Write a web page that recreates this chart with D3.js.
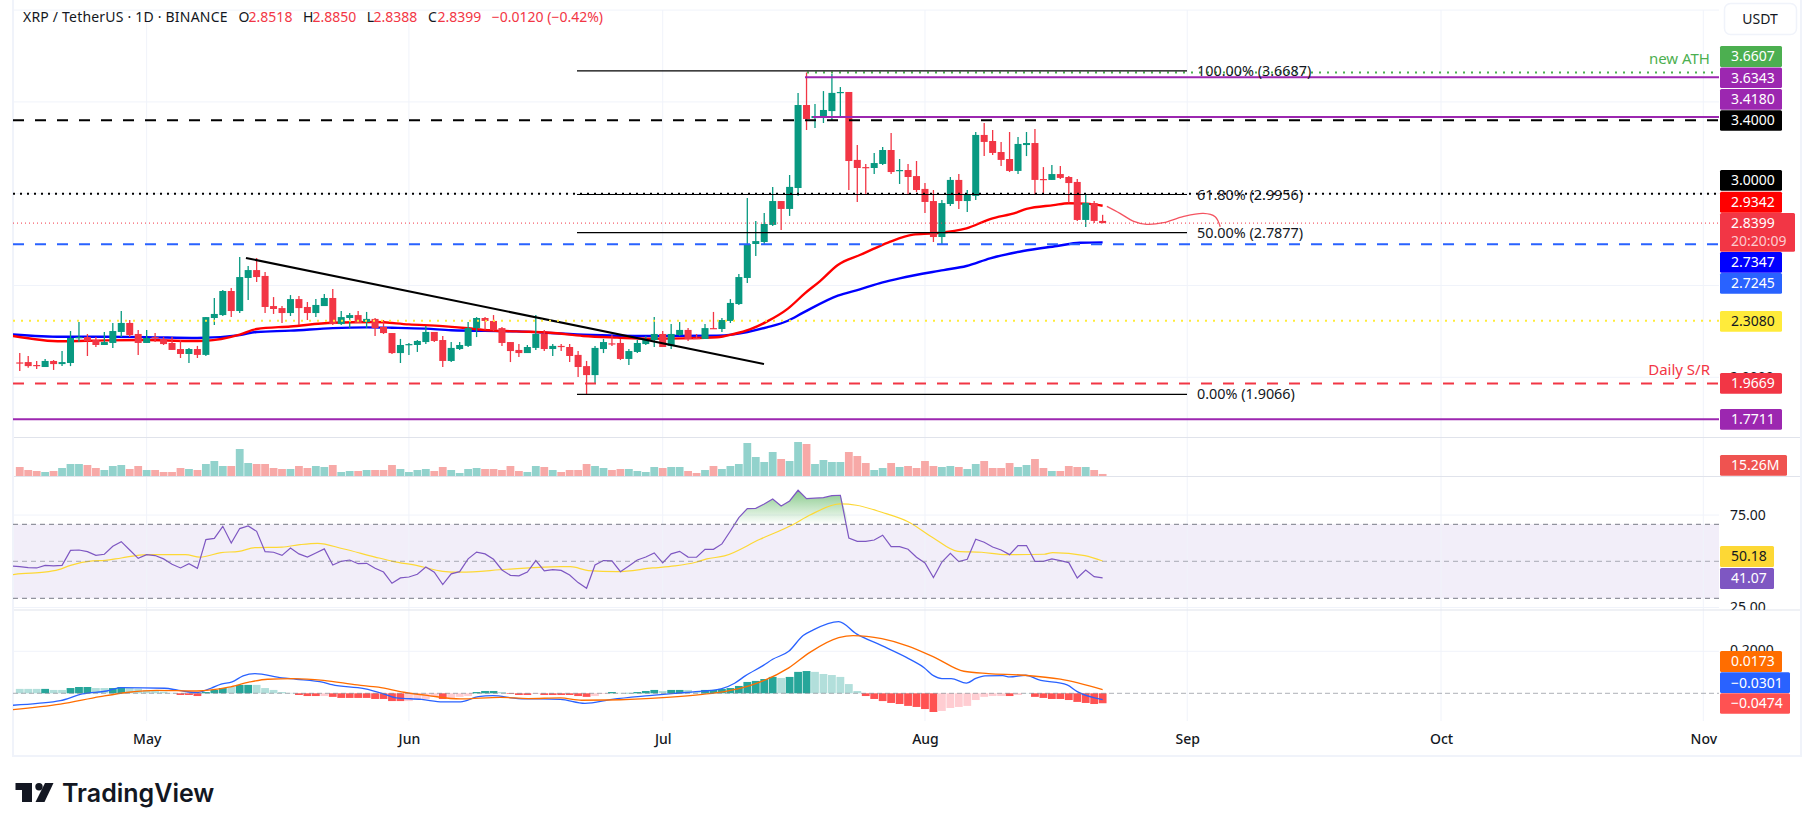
<!DOCTYPE html>
<html>
<head>
<meta charset="utf-8">
<script src="https://cdn.jsdelivr.net/npm/d3@7"></script>
<style>
  html, body { margin: 0; padding: 0; background: #fff; overflow: hidden; }
  text { font-family: "Noto Sans", sans-serif; }
</style>
</head>
<body>
<svg id="chart" width="1814" height="831"></svg>
<script>
// daily candles, bar 0 = Apr 16, bar 128 = Aug 22
var opens = [2.081,2.083,2.067,2.056,2.089,2.072,2.078,2.214,2.219,2.203,
2.176,2.187,2.247,2.296,2.236,2.187,2.219,2.209,2.187,2.154,
2.127,2.154,2.122,2.323,2.339,2.470,2.361,2.541,2.584,2.552,
2.388,2.377,2.350,2.426,2.383,2.350,2.388,2.432,2.290,2.323,
2.339,2.301,2.318,2.274,2.241,2.132,2.176,2.176,2.192,2.247,
2.203,2.089,2.154,2.171,2.268,2.323,2.307,2.268,2.192,2.149,
2.132,2.160,2.236,2.154,2.171,2.165,2.122,2.061,2.012,2.154,
2.185,2.187,2.100,2.138,2.181,2.203,2.236,2.171,2.230,2.258,
2.214,2.209,2.268,2.263,2.307,2.399,2.541,2.726,2.737,2.830,
2.960,2.917,3.031,3.483,3.412,3.418,3.450,3.549,3.554,3.184,
3.145,3.140,3.162,3.238,3.124,3.129,3.096,3.026,2.960,2.764,
2.944,3.075,2.960,2.988,3.320,3.287,3.227,3.189,3.124,3.265,
3.276,3.080,3.075,3.107,3.091,3.064,2.857,2.949,2.8518];

var highs = [2.132,2.116,2.089,2.100,2.094,2.143,2.252,2.301,2.236,2.219,
2.247,2.296,2.361,2.312,2.258,2.258,2.241,2.219,2.219,2.203,
2.160,2.171,2.328,2.432,2.476,2.486,2.655,2.606,2.650,2.574,
2.437,2.388,2.448,2.443,2.410,2.426,2.454,2.481,2.361,2.350,
2.361,2.356,2.323,2.312,2.241,2.209,2.187,2.203,2.279,2.247,
2.225,2.192,2.192,2.301,2.328,2.328,2.339,2.274,2.192,2.181,
2.176,2.339,2.258,2.181,2.181,2.181,2.143,2.089,2.171,2.209,
2.230,2.209,2.154,2.203,2.225,2.328,2.252,2.290,2.301,2.268,
2.236,2.290,2.356,2.323,2.426,2.563,2.977,2.851,2.895,3.037,
2.960,3.102,3.549,3.660,3.489,3.559,3.652,3.581,3.554,3.265,
3.162,3.222,3.254,3.331,3.189,3.162,3.178,3.058,3.020,2.966,
3.091,3.107,3.020,3.336,3.385,3.347,3.282,3.336,3.309,3.336,
3.352,3.145,3.156,3.151,3.096,3.080,2.993,2.960,2.8850];

var lows = [2.034,2.052,2.045,2.056,2.040,2.061,2.061,2.192,2.116,2.165,
2.176,2.160,2.219,2.219,2.122,2.187,2.192,2.176,2.149,2.105,
2.078,2.105,2.116,2.285,2.334,2.328,2.350,2.421,2.519,2.350,
2.345,2.296,2.334,2.285,2.312,2.328,2.388,2.285,2.285,2.268,
2.296,2.268,2.225,2.236,2.127,2.078,2.122,2.138,2.181,2.192,
2.056,2.083,2.149,2.165,2.219,2.258,2.252,2.171,2.083,2.111,
2.132,2.149,2.143,2.116,2.143,2.083,2.002,1.909,1.969,2.132,
2.171,2.094,2.067,2.132,2.176,2.165,2.165,2.154,2.225,2.198,
2.209,2.209,2.263,2.247,2.296,2.394,2.514,2.661,2.726,2.824,
2.802,2.879,2.988,3.347,3.358,3.385,3.401,3.423,3.020,2.955,
2.998,3.107,3.156,3.107,3.053,2.998,3.009,2.895,2.737,2.726,
2.933,2.917,2.900,2.966,3.205,3.211,3.151,3.118,3.107,3.205,
2.998,2.998,3.075,3.080,2.949,2.851,2.819,2.840,2.8388];

var closes = [2.080,2.061,2.063,2.089,2.072,2.083,2.214,2.219,2.198,2.176,
2.192,2.252,2.296,2.230,2.187,2.214,2.214,2.181,2.149,2.127,
2.154,2.122,2.328,2.345,2.470,2.361,2.546,2.584,2.546,2.383,
2.372,2.350,2.426,2.377,2.350,2.394,2.432,2.290,2.328,2.339,
2.296,2.318,2.268,2.241,2.132,2.176,2.181,2.198,2.247,2.198,
2.089,2.160,2.176,2.268,2.323,2.307,2.258,2.187,2.143,2.132,
2.165,2.236,2.154,2.171,2.165,2.116,2.056,2.012,2.160,2.192,
2.181,2.100,2.143,2.187,2.203,2.236,2.165,2.236,2.258,2.209,
2.209,2.268,2.263,2.312,2.405,2.546,2.726,2.742,2.835,2.960,
2.917,3.037,3.483,3.407,3.423,3.456,3.549,3.554,3.178,3.140,
3.140,3.167,3.238,3.118,3.129,3.091,3.020,2.955,2.764,2.949,
3.075,2.960,2.998,3.320,3.282,3.222,3.184,3.124,3.271,3.276,
3.075,3.075,3.107,3.086,3.058,2.857,2.949,2.8519,2.8399];

// volume in millions
var volumes = [67.5,45,37.5,30,37.5,60,90,90,82.5,60,
45,75,82.5,52.5,75,45,45,30,30,60,
52.5,45,90,112.5,75,75,202.5,97.5,90,90,
60,52.5,52.5,75,60,75,67.5,82.5,30,37.5,
37.5,45,45,45,82.5,52.5,30,45,52.5,37.5,
67.5,45,22.5,52.5,60,52.5,52.5,45,75,37.5,
30,75,67.5,45,30,45,45,90,75,60,
45,52.5,52.5,37.5,30,67.5,60,67.5,67.5,37.5,
22.5,45,75,52.5,75,90,247.5,142.5,105,180,
127.5,112.5,255,240,90,120,105,105,180,150,
97.5,45,60,97.5,67.5,75,60,112.5,75,67.5,
75,67.5,52.5,90,112.5,60,60,97.5,67.5,82.5,
127.5,60,37.5,37.5,75,67.5,67.5,45,15.26];

// moving averages, read at the bends [bar, price]
var ema50 = [[-1,2.227],[5,2.196],[10,2.201],[15,2.203],[20,2.198],[22,2.199],[26,2.232],[28,2.263],[32,2.277],[37,2.297],
[42,2.301],[46,2.288],[50,2.279],[53,2.267],[54.8,2.258],[58.7,2.250],[62.7,2.243],[66.6,2.225],[70.6,2.216],[74.5,2.210],
[78.4,2.212],[82.4,2.218],[84.4,2.236],[86.3,2.261],[88.3,2.303],[90.8,2.374],[92.8,2.457],[94.6,2.524],[96.7,2.612],[99.3,2.666],
[100.9,2.699],[102.9,2.739],[105.6,2.777],[108,2.784],[111.9,2.811],[114.7,2.862],[117.8,2.897],[119,2.917],[122.2,2.938],[124,2.948],
[126.1,2.946],[128,2.9342]];

var ema100 = [[-1,2.234],[5,2.221],[10,2.221],[15,2.219],[21,2.214],[26,2.230],[28,2.247],[32,2.254],[37,2.268],[41,2.272],
[44,2.270],[48,2.265],[51,2.256],[58.7,2.250],[66.6,2.232],[74.5,2.225],[82.4,2.227],[84.4,2.234],[88.3,2.272],[90.8,2.308],
[92.6,2.352],[96.7,2.445],[99.3,2.479],[102,2.517],[104,2.539],[109.2,2.584],[111.9,2.606],[114.7,2.648],[118.6,2.688],[122.6,2.715],
[125.3,2.733],[128,2.7347]];

var trendLine = [[26.74,2.650],[87.97,2.072]];
var forecast = [[128.5,2.931],[130.05,2.893],[131.6,2.851],[133.2,2.833],[135.2,2.842],[137.5,2.875],[139.9,2.893],[141.3,2.875],[141.9,2.820]];

var fibPrices = [3.6687, 2.9956, 2.7877, 1.9066];
var fibLabels = ["100.00% (3.6687)", "61.80% (2.9956)", "50.00% (2.7877)", "0.00% (1.9066)"];

// RSI, first value is bar -1
var rsi = [47.5,47.1,46.6,46.4,47.8,47.5,47.8,55.9,56.1,55.2,53.2,
53.8,58.1,60.6,56.1,51.6,53.6,53.1,51.3,48.4,46.4,
48.7,46.2,61.7,62.4,68.9,59.9,67.7,69.1,66.2,55.2,
54.9,53.2,57.2,54.0,52.3,54.5,56.7,48.0,50.0,50.7,
48.7,48.9,46.2,44.2,38.1,41.0,41.5,43.0,46.9,44.1,
37.4,43.2,44.4,51.3,55.0,54.0,51.1,45.3,42.4,42.1,
44.2,50.4,44.8,45.5,45.1,42.6,38.5,35.4,48.0,50.4,
50.2,44.4,47.5,50.7,52.3,54.5,49.1,54.0,55.4,52.3,
52.2,56.5,56.5,59.4,66.4,73.6,78.5,78.6,81.0,83.7,
79.9,82.6,88.4,83.9,84.1,84.4,85.5,85.7,62.6,60.8,
60.8,61.5,64.1,57.9,57.9,56.5,52.2,49.1,41.2,49.6,
54.3,49.8,51.1,61.9,60.3,57.7,56.1,53.6,58.5,58.5,
50.0,50.0,51.3,50.4,49.3,41.0,45.3,41.7,41.07];

var rsiMa = [[-0.8,42.8],[0.2,43.3],[2.9,44.1],[4.6,45.5],[6,47.8],[8.6,50.2],[10.1,50.5],[12,51.8],[15,53.6],[19.6,53.6],
[21.3,52.3],[23.8,54.7],[25.9,55.4],[27.8,57.4],[31,57.7],[33.1,59.0],[35.2,59.7],[38.2,56.8],[42,52.3],[44.1,50],
[47,47.7],[50,44.6],[52.1,44.1],[57.6,45.7],[63.9,47.1],[65.1,47.1],[67.2,45],[70.6,44.4],[74.8,46.4],[77.4,47.5],
[79.9,49.5],[81.2,51.3],[83.3,52.9],[87.5,61.9],[91.3,69.6],[93.4,75.0],[97,81],[98.9,80.3],[101.9,76.5],[105,71.4],
[108,62.6],[110.9,55.4],[113.7,54.9],[116.6,53.6],[121.1,53.8],[122.1,54.7],[125.9,53.1],[128,50.18]];

// MACD histogram and its four shades: G strong up, g fading up, R strong down, r fading down
var hist = [.021,.021,.021,.021,.016,.016,.025,.030,.030,.025,
.025,.025,.030,.025,.022,.016,.011,.008,.002,-.008,
-.008,-.013,.006,.016,.025,.030,.040,.040,.040,.025,
.016,.006,.002,-.008,-.013,-.013,-.013,-.017,-.022,-.022,
-.022,-.022,-.027,-.027,-.037,-.037,-.037,-.027,-.027,-.017,
-.027,-.022,-.017,-.013,.006,.011,.011,.006,-.003,-.008,
-.008,-.003,-.008,-.008,-.008,-.008,-.013,-.017,-.013,-.003,
.006,.002,.002,.006,.011,.016,.011,.016,.016,.016,
.006,.016,.016,.021,.025,.035,.054,.059,.068,.078,
.073,.078,.102,.106,.102,.092,.087,.078,.044,.011,
-.013,-.027,-.037,-.046,-.051,-.060,-.065,-.075,-.089,-.084,
-.070,-.065,-.060,-.032,-.017,-.013,-.013,-.013,-.008,.001,
-.017,-.022,-.027,-.027,-.032,-.041,-.046,-.051,-.0474];
var histShade = "gggGggGGGggGGgggggg" + "RRRGGGgGGggggg" + "RRRrRRRRRRRRRrrr" + "rRrrr" + "GGGg" + "RRRrRRRRRRr" + "rGgGGGGgGGgg" + "GGGGGGGGGg" + "GGGgggggg" + "RRRRRRRRRr" + "rrrrrrrRrg" + "RRRRRRRRR";

var macdLine = [[-0.8,-.057],[2.1,-.048],[4.8,-.035],[7.4,-.003],[10.3,.011],[12,.027],[17.1,.024],[18.8,.014],[20.9,.003],[22.6,.024],
[23.8,.044],[25.1,.054],[26.4,.083],[27.8,.094],[31,.073],[32.7,.067],[35.9,.052],[36.9,.041],[40.7,.022],[42.8,0],
[44.5,-.022],[47.5,-.029],[50,-.041],[52.1,-.041],[54.2,-.016],[55.9,-.011],[58.9,-.025],[63.9,-.029],[66.8,-.048],[70,-.029],
[74.4,-.011],[77.4,0],[80.7,.010],[82.9,.021],[84.5,.048],[85.8,.084],[87.9,.133],[89,.162],[90.9,.200],[92.6,.275],
[93.8,.302],[96.8,.341],[98.9,.283],[101.9,.227],[104.8,.171],[106.9,.122],[108,.084],[109,.070],[110.1,.070],[111.9,.048],
[113,.071],[114.1,.083],[116.2,.084],[117,.078],[118.9,.086],[120.4,.065],[123.8,.040],[125,.008],[128,-.0301]];

var macdSignal = [[-0.8,-.078],[4.8,-.052],[9.5,-.016],[12.9,.005],[16.2,.014],[20.9,.011],[24.7,.029],[27.2,.054],[29.3,.067],[32.3,.070],
[35.9,.062],[39.9,.040],[42.4,.029],[45.4,.005],[48.3,-.011],[52.1,-.027],[56.8,-.019],[60.1,-.025],[63.9,-.022],[66.4,-.033],
[69.3,-.032],[76.5,-.019],[80.7,-.005],[83.3,.008],[86.2,.035],[90.9,.121],[93.4,.195],[96.8,.265],[98.5,.275],[101.9,.260],
[105,.225],[108.2,.170],[111.6,.105],[114.5,.094],[118.7,.086],[123,.067],[128,.0173]];

var monthLabels = ["May","Jun","Jul","Aug","Sep","Oct","Nov"];
var monthBars = [15,46,76,107,138,168,199];

// pane layout
var left = 13, right = 1719, axisRight = 1800;

var svg = d3.select("#chart");
var x = d3.scaleLinear().domain([0,128]).range([19.75,1102.63]);
var yPrice = d3.scaleLinear().domain([2,3]).range([377.3,193.7]);
var yVol = d3.scaleLinear().domain([0,255]).range([476,442]);
var yRsi = d3.scaleLinear().domain([30,70]).range([598.3,524.3]);
var yMacd = d3.scaleLinear().domain([0,0.2]).range([693.3,651.3]);

var defs = svg.append("defs");
defs.append("clipPath").attr("id","pane").append("rect")
  .attr("x",left).attr("y",0).attr("width",right-left).attr("height",760);
defs.append("clipPath").attr("id","rsiAxis").append("rect")
  .attr("x",right).attr("y",477).attr("width",90).attr("height",133);
var grad = defs.append("linearGradient").attr("id","obFill")
  .attr("gradientUnits","userSpaceOnUse").attr("x1",0).attr("x2",0)
  .attr("y1",yRsi(88)).attr("y2",yRsi(70));
grad.append("stop").attr("offset",0).attr("stop-color","#4caf50").attr("stop-opacity",0.65);
grad.append("stop").attr("offset",1).attr("stop-color","#4caf50").attr("stop-opacity",0);

var gridColor = "#f0f3fa", sepColor = "#e0e3eb";

// frame and grid
function hGrid(scale, vals) {
  svg.append("g").selectAll("line").data(vals).join("line")
    .attr("x1",left).attr("x2",right)
    .attr("y1",d=>scale(d)).attr("y2",d=>scale(d))
    .attr("stroke",gridColor).attr("stroke-width",1);
}
hGrid(yPrice,[2,2.5,3,3.5,4]);
hGrid(yRsi,[25,75]);
hGrid(yMacd,[0.2]);

// RSI band
svg.append("rect").attr("x",left).attr("width",right-left)
  .attr("y",yRsi(70)).attr("height",yRsi(30)-yRsi(70))
  .attr("fill","#7e57c2").attr("fill-opacity",0.1);

var xAxis = d3.axisBottom(x).tickValues(monthBars)
  .tickFormat((d,i)=>monthLabels[i]).tickSize(0).tickPadding(0);
var xg = svg.append("g").attr("transform","translate(0,730)").call(xAxis);
xg.select(".domain").remove();
xg.selectAll("text").attr("font-size",14).attr("font-weight",500).attr("fill","#131722")
  .attr("dy","0").attr("y",14);

svg.append("g").selectAll("line").data(monthBars).join("line")
  .attr("x1",d=>x(d)).attr("x2",d=>x(d)).attr("y1",10).attr("y2",721)
  .attr("stroke",gridColor).attr("stroke-width",1);

// separators
svg.append("g").selectAll("line").data([437.5,476.5,610]).join("line")
  .attr("x1",left).attr("x2",axisRight).attr("y1",d=>d).attr("y2",d=>d)
  .attr("stroke",sepColor).attr("stroke-width",1.2);
svg.append("rect").attr("x",12).attr("y",0).attr("width",2).attr("height",756).attr("fill",gridColor);
svg.append("rect").attr("x",12).attr("y",755).attr("width",1790).attr("height",2).attr("fill",gridColor);
svg.append("rect").attr("x",1800).attr("y",0).attr("width",2).attr("height",757).attr("fill",gridColor);

var chart = svg.append("g").attr("clip-path","url(#pane)");
var barLine = d3.line().x(d=>x(d[0])).y(d=>yPrice(d[1])).curve(d3.curveMonotoneX);

// EMAs sit below the candles
chart.append("path").attr("d",barLine(ema100)).attr("fill","none").attr("stroke","#0000ff").attr("stroke-width",2.4);
chart.append("path").attr("d",barLine(ema50)).attr("fill","none").attr("stroke","#ff0000").attr("stroke-width",2.4);

// candles
var upCol = "#089981", downCol = "#f23645";
var bars = d3.range(opens.length);
var isUp = i => closes[i] >= opens[i];
chart.append("g").selectAll("line").data(bars).join("line")
  .attr("x1",i=>x(i)).attr("x2",i=>x(i))
  .attr("y1",i=>yPrice(highs[i])).attr("y2",i=>yPrice(lows[i]))
  .attr("stroke",i=>isUp(i)?upCol:downCol).attr("stroke-width",1.3);
chart.append("g").selectAll("rect").data(bars).join("rect")
  .attr("x",i=>x(i)-3.5).attr("width",7)
  .attr("y",i=>yPrice(Math.max(opens[i],closes[i])))
  .attr("height",i=>Math.max(1.2,Math.abs(yPrice(opens[i])-yPrice(closes[i]))))
  .attr("fill",i=>isUp(i)?upCol:downCol);

// horizontal levels: full width ones start at the left edge
var levelPrices = [3.6607,3.6343,3.4180,3.4000,3.0000,2.8399,2.7245,2.3080,1.9669,1.7711];
var levelStyle = [
  {c:"#4caf50",w:2,dash:"2 6",from:807},
  {c:"#9c27b0",w:2,dash:null,from:805},
  {c:"#9c27b0",w:2,dash:null,from:813},
  {c:"#000000",w:2.2,dash:"11 11",from:left},
  {c:"#000000",w:2,dash:"2 5",from:left},
  {c:"#f23645",w:1,dash:"1 3",from:left},
  {c:"#2962ff",w:2,dash:"11 11",from:left},
  {c:"#ffeb3b",w:2,dash:"2 6",from:left},
  {c:"#f23645",w:2,dash:"11 11",from:left},
  {c:"#9c27b0",w:2,dash:null,from:left}
];
svg.append("g").selectAll("line").data(levelPrices).join("line")
  .attr("x1",(d,i)=>levelStyle[i].from).attr("x2",right)
  .attr("y1",d=>yPrice(d)).attr("y2",d=>yPrice(d))
  .attr("stroke",(d,i)=>levelStyle[i].c).attr("stroke-width",(d,i)=>levelStyle[i].w)
  .attr("stroke-dasharray",(d,i)=>levelStyle[i].dash);

// fib levels
svg.append("g").selectAll("line").data(fibPrices).join("line")
  .attr("x1",577).attr("x2",1187).attr("y1",d=>yPrice(d)).attr("y2",d=>yPrice(d))
  .attr("stroke","#000").attr("stroke-width",1.2);
svg.append("g").selectAll("text").data(fibPrices).join("text")
  .attr("x",1197).attr("y",d=>yPrice(d)).attr("dy","0.35em")
  .attr("font-size",14.4).attr("fill","#131722")
  .text((d,i)=>fibLabels[i]);

// drawings
chart.append("path").attr("d",d3.line().x(d=>x(d[0])).y(d=>yPrice(d[1]))(trendLine))
  .attr("stroke","#000").attr("stroke-width",2).attr("fill","none");
chart.append("path").attr("d",d3.line().x(d=>x(d[0])).y(d=>yPrice(d[1])).curve(d3.curveCatmullRom)(forecast))
  .attr("stroke","#f23645").attr("stroke-opacity",0.85).attr("stroke-width",1.3).attr("fill","none");

svg.append("text").attr("x",1710).attr("y",59).attr("dy","0.35em").attr("text-anchor","end")
  .attr("font-size",15).attr("fill","#4caf50").text("new ATH");
svg.append("text").attr("x",1710).attr("y",370).attr("dy","0.35em").attr("text-anchor","end")
  .attr("font-size",15).attr("fill","#f23645").text("Daily S/R");

// volume
chart.append("g").selectAll("rect").data(volumes).join("rect")
  .attr("x",(d,i)=>x(i)-3.9).attr("width",7.8)
  .attr("y",d=>yVol(d)).attr("height",d=>476-yVol(d))
  .attr("fill",(d,i)=>isUp(i)?"#92d2cc":"#f7a9a7");

// RSI
[30,50,70].forEach(function(v){
  svg.append("line").attr("x1",left).attr("x2",right).attr("y1",yRsi(v)).attr("y2",yRsi(v))
    .attr("stroke","#787b86").attr("stroke-width",1).attr("stroke-dasharray","5 4")
    .attr("stroke-opacity",v==50?0.6:1);
});
var rsiPts = rsi.map((v,k)=>[k-1,v]);
chart.append("path").datum(rsiPts)
  .attr("d",d3.area().x(d=>x(d[0])).y0(yRsi(70)).y1(d=>yRsi(Math.max(d[1],70))))
  .attr("fill","url(#obFill)");
var rsiPath = d3.line().x(d=>x(d[0])).y(d=>yRsi(d[1]));
chart.append("path").attr("d",rsiPath.curve(d3.curveMonotoneX)(rsiMa)).attr("fill","none").attr("stroke","#fdd835").attr("stroke-width",1.2);
chart.append("path").attr("d",d3.line().x(d=>x(d[0])).y(d=>yRsi(d[1]))(rsiPts)).attr("fill","none").attr("stroke","#7e57c2").attr("stroke-width",1.2);

// MACD
svg.append("line").attr("x1",left).attr("x2",right).attr("y1",yMacd(0)).attr("y2",yMacd(0))
  .attr("stroke","#787b86").attr("stroke-width",1).attr("stroke-dasharray","5 3").attr("stroke-opacity",0.6);
var shadeColor = {G:"#26a69a",g:"#b2dfdb",R:"#ff5252",r:"#ffcdd2"};
chart.append("g").selectAll("rect").data(hist).join("rect")
  .attr("x",(d,i)=>x(i)-3.9).attr("width",7.8)
  .attr("y",d=>Math.min(yMacd(d),yMacd(0))).attr("height",d=>Math.abs(yMacd(d)-yMacd(0)))
  .attr("fill",(d,i)=>shadeColor[histShade[i]]);
var macdPath = d3.line().x(d=>x(d[0])).y(d=>yMacd(d[1])).curve(d3.curveMonotoneX);
chart.append("path").attr("d",macdPath(macdLine)).attr("fill","none").attr("stroke","#2962ff").attr("stroke-width",1.3);
chart.append("path").attr("d",macdPath(macdSignal)).attr("fill","none").attr("stroke","#ff6d00").attr("stroke-width",1.3);

// axis labels that stay visible behind the tags
var axisTicks = [["75.00",515.3],["25.00",606.7],["0.2000",650],["2.0000",377.3]];
svg.append("g").selectAll("text").data(axisTicks).join("text")
  .attr("x",1730).attr("y",d=>d[1]).attr("dy","0.35em")
  .attr("font-size",14).attr("fill","#131722")
  .attr("clip-path",d=>d[0]=="25.00"?"url(#rsiAxis)":null)
  .text(d=>d[0]);

// price scale tags: label, background, text colour, top, bottom, right edge
var tags = [
  ["3.6607","#4caf50","#fff",46,67,1782],
  ["3.6343","#9c27b0","#fff",67.4,88,1782],
  ["3.4180","#9c27b0","#fff",89,109.7,1782],
  ["3.4000","#000000","#fff",110.3,130.7,1782],
  ["3.0000","#000000","#fff",170,190.7,1782],
  ["2.9342","#ff0000","#fff",191.7,212.7,1782],
  ["2.7347","#0000ff","#fff",252,272.7,1782],
  ["2.7245","#2962ff","#fff",273,293.7,1782],
  ["2.3080","#ffeb3b","#131722",311,331.7,1782],
  ["1.9669","#f23645","#fff",373,393.7,1782],
  ["1.7711","#9c27b0","#fff",409,429.7,1782],
  ["15.26M","#ef5350","#fff",455,475.7,1787],
  ["50.18","#fdd835","#131722",546,567,1774],
  ["41.07","#7e57c2","#fff",568,589,1774],
  ["0.0173","#ff6d00","#fff",651,672,1782],
  ["\u22120.0301","#2962ff","#fff",672.3,693,1790],
  ["\u22120.0474","#ff5252","#fff",693.3,713.7,1790]
];
var tagG = svg.append("g");
tagG.selectAll("rect").data(tags).join("rect")
  .attr("x",1720).attr("y",d=>d[3]).attr("width",d=>d[5]-1720).attr("height",d=>d[4]-d[3])
  .attr("rx",1.5).attr("fill",d=>d[1]);
tagG.selectAll("text").data(tags).join("text")
  .attr("x",1731).attr("y",d=>(d[3]+d[4])/2).attr("dy","0.35em")
  .attr("font-size",14).attr("fill",d=>d[2]).text(d=>d[0]);

// last price tag with countdown
svg.append("rect").attr("x",1720).attr("y",213).attr("width",75).attr("height",38.7).attr("rx",1.5).attr("fill","#f23645");
svg.append("text").attr("x",1731).attr("y",223.5).attr("dy","0.35em").attr("font-size",14).attr("fill","#fff").text("2.8399");
svg.append("text").attr("x",1731).attr("y",241.5).attr("dy","0.35em").attr("font-size",14).attr("fill","#fff").attr("fill-opacity",0.75).text("20:20:09");

// currency button
svg.append("rect").attr("x",1724.5).attr("y",3.5).attr("width",72).attr("height",31).attr("rx",6)
  .attr("fill","#fff").attr("stroke",gridColor).attr("stroke-width",1.5);
svg.append("text").attr("x",1760).attr("y",19).attr("dy","0.35em").attr("text-anchor","middle")
  .attr("font-size",14).attr("fill","#131722").text("USDT");

// header legend
var legendParts = [
  ["XRP / TetherUS \u00b7 1D \u00b7 BINANCE",23,"#131722"],
  ["O",238.6,"#131722"],["2.8518",248.6,"#f23645"],
  ["H",303,"#131722"],["2.8850",312.5,"#f23645"],
  ["L",366.8,"#131722"],["2.8388",373.5,"#f23645"],
  ["C",427.9,"#131722"],["2.8399",437.5,"#f23645"],
  ["\u22120.0120 (\u22120.42%)",491.8,"#f23645"]
];
svg.append("g").selectAll("text").data(legendParts).join("text")
  .attr("x",d=>d[1]).attr("y",17.3).attr("dy","0.35em")
  .attr("font-size",14).attr("letter-spacing",(d,i)=>i==0?0.2:0).attr("fill",d=>d[2]).text(d=>d[0]);

// TradingView logo
var logo = svg.append("g").attr("fill","#131722");
logo.append("path").attr("d","M15.5 783H32V802H22V790H15.5Z");
logo.append("circle").attr("cx",39).attr("cy",786.7).attr("r",3.7);
logo.append("path").attr("d","M45 783H53.5L44.5 802H35.5Z");
logo.append("text").attr("x",62).attr("y",802).attr("font-size",25).attr("font-weight",600)
  .style("font-family","Inter").text("TradingView");
</script>
</body>
</html>
